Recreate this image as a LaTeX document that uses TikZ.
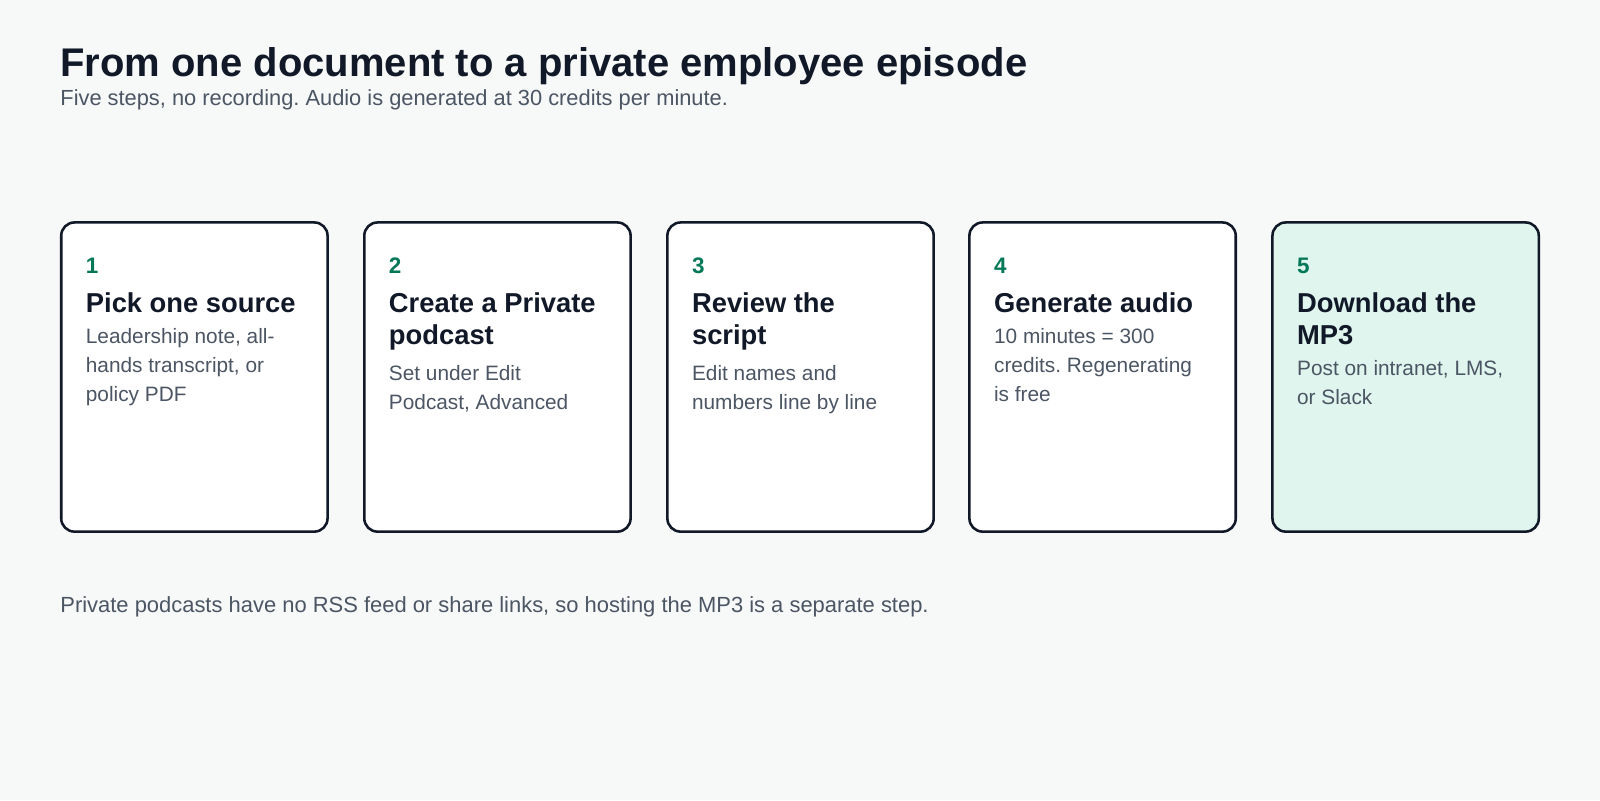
\documentclass[tikz,border=0pt]{standalone}
\usepackage{fontspec}
\setmainfont{Liberation Sans}
\definecolor{bg}{HTML}{F7F9F9}
\definecolor{ink}{HTML}{111827}
\definecolor{gray}{HTML}{4B5563}
\definecolor{grn}{HTML}{047857}
\definecolor{mint}{HTML}{E0F5EE}
\frenchspacing
\begin{document}
\begin{tikzpicture}[x=1pt,y=-1pt,
  card/.style={draw=ink,line width=2.5pt,rounded corners=13pt,fill=white},
  num/.style={anchor=base west,inner sep=0,text=grn,font=\fontsize{22}{26}\selectfont\bfseries},
  ttl/.style={anchor=north west,inner sep=0,text=ink,align=left,font=\fontsize{26.8}{31}\selectfont\bfseries},
  dsc/.style={anchor=north west,inner sep=0,text=gray,align=left,font=\fontsize{20.4}{28}\selectfont}]
\useasboundingbox[fill=bg] (0,0) rectangle (1568,784);
\node[anchor=base west,inner sep=0,text=ink,font=\fontsize{39.2}{48}\selectfont\bfseries] (title) at (59,75) {From one document to a private employee episode};
\node[anchor=base west,inner sep=0,text=gray,font=\fontsize{21.4}{24}\selectfont] (sub) at (59,103) {Five steps, no recording. Audio is generated at 30 credits per minute.};
\foreach \i/\x/\t/\d/\f in {
 1/60/{Pick one source}/{Leadership note, all-\\hands transcript, or\\policy PDF}/white,
 2/357/{Create a Private\\podcast}/{Set under Edit\\Podcast, Advanced}/white,
 3/654/{Review the\\script}/{Edit names and\\numbers line by line}/white,
 4/950/{Generate audio}/{10 minutes = 300\\credits. Regenerating\\is free}/white,
 5/1247/{Download the\\MP3}/{Post on intranet, LMS,\\or Slack}/mint}{
 \draw[card,fill=\f] (\x,218) rectangle ++(261,303);
 \node[num] (n\i) at (\x+24,268) {\i};
 \node[ttl] (t\i) at (\x+24,287) {\t};
 \node[dsc] (d\i) at ([yshift=-15pt]t\i.south west) {\d};
}
\node[anchor=base west,inner sep=0,text=gray,font=\fontsize{21.5}{24}\selectfont] (foot) at (59,600) {Private podcasts have no RSS feed or share links, so hosting the MP3 is a separate step.};
\end{tikzpicture}
\end{document}
